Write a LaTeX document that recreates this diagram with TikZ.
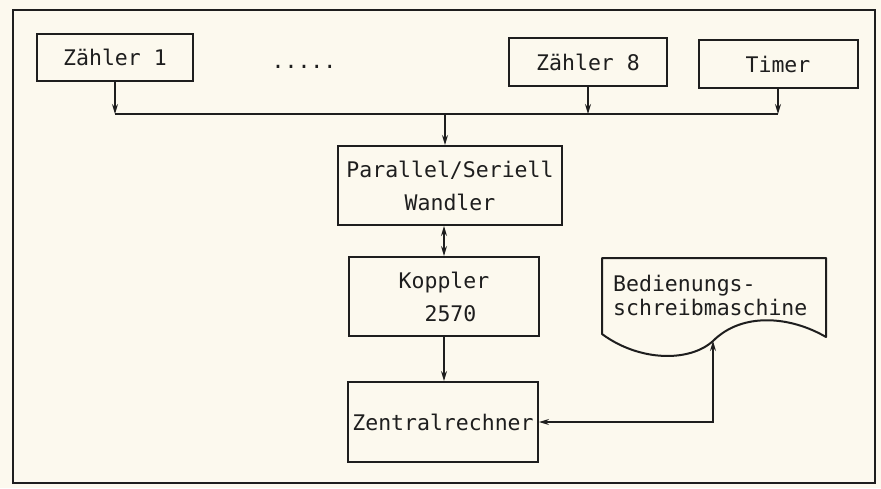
\documentclass[tikz,border=0pt]{standalone}
\usepackage{fontspec}
\setmonofont{DejaVu Sans Mono}
\usetikzlibrary{arrows.meta}
\definecolor{paper}{RGB}{252,249,238}
\definecolor{ink}{RGB}{30,30,30}
\begin{document}
\begin{tikzpicture}[x=1pt,y=-1pt,
  box/.style={draw=ink,line width=2pt,inner sep=0pt,text=ink,
    font=\ttfamily\fontsize{21.5}{33}\selectfont,align=center},
  conn/.style={draw=ink,line width=1.2pt},
  tip/.style={-{Stealth[length=10pt,width=6pt]}},
  dtip/.style={{Stealth[length=10pt,width=6pt]}-{Stealth[length=10pt,width=6pt]}},
]
\useasboundingbox (0,0) rectangle (881,488);
\fill[paper] (0,0) rectangle (881,488);
\draw[ink,line width=1.5pt] (13,10) rectangle (875,483);

% top row
\node[box,minimum width=156pt,minimum height=47pt] (z1) at (115,57) {Zähler 1};
\node[box,minimum width=158pt,minimum height=48pt] (z8) at (588,62) {Zähler 8};
\node[box,minimum width=159pt,minimum height=48pt] (tm) at (778,64) {Timer};
\node[font=\ttfamily\fontsize{21.5}{24}\selectfont,text=ink,anchor=base] (dots) at (304,68) {.....};

% bus
\coordinate (busL) at (115,114);
\coordinate (busR) at (778,114);
\coordinate (j) at (445,114);
\draw[conn] (busL) -- (busR);
\draw[conn,tip] (z1.south) -- (busL);
\draw[conn,tip] (z8.south) -- (z8.south |- busL);
\draw[conn,tip] (tm.south) -- (busR);

% chain
\node[box,minimum width=224pt,minimum height=79pt] (par) at (450,185.5) {Parallel/Seriell\\Wandler};
\node[box,minimum width=190pt,minimum height=79pt] (kop) at (444,296.5) {Koppler\\\ 2570};
\node[box,minimum width=190pt,minimum height=80pt] (zr) at (443,422) {Zentralrechner};

\draw[conn,tip] (j) -- (j |- par.north);
\draw[conn,dtip] (kop.north |- par.south) -- (kop.north);
\draw[conn,tip] (kop.south) -- (kop.south |- zr.north);

% document shape
\draw[ink,line width=2pt,line join=round] (602,258) -- (826,258) -- (826,337)
  .. controls (790,316) and (742,312) .. (713,341)
  .. controls (690,362) and (640,362) .. (602,334) -- cycle;
\coordinate (w) at (713,341);
\node[anchor=west,align=left,text=ink,inner sep=0pt,
  font=\ttfamily\fontsize{21.5}{24}\selectfont] (bed) at (613,295) {Bedienungs-\\schreibmaschine};

\draw[conn,dtip] (zr.east) -| (w);
\end{tikzpicture}
\end{document}
